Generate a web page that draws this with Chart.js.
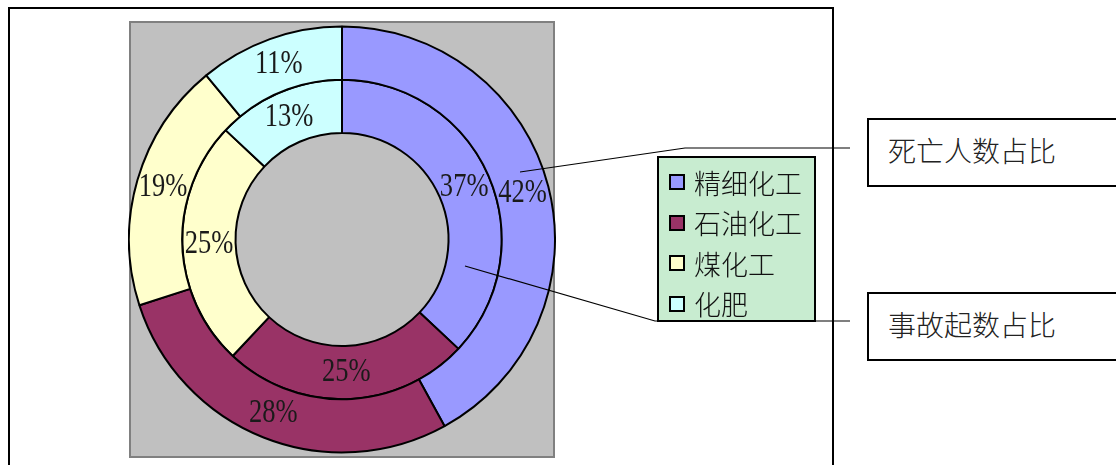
<!DOCTYPE html>
<html>
<head>
<meta charset="utf-8">
<script src="https://cdn.jsdelivr.net/npm/chart.js@4.4.1/dist/chart.umd.min.js"></script>
<style>
  html, body { margin: 0; padding: 0; background: #fff; }
  body { width: 1116px; height: 465px; position: relative; overflow: hidden; }
  #frame { position: absolute; left: 8px; top: 7px; width: 826px; height: 470px; border: 2px solid #000; box-sizing: border-box; }
  #plot { position: absolute; left: 129px; top: 21px; width: 426px; height: 437px; background: #c0c0c0; border: 2px solid #808080; box-sizing: border-box; }
  #chart { position: absolute; left: 128px; top: 22px; }
  #legend { position: absolute; left: 657px; top: 156px; width: 159px; height: 166px; background: #c8ecd0; border: 2px solid #000; box-sizing: border-box; padding-top: 4px; }
  .item { height: 40.5px; display: flex; align-items: center; padding-left: 10px; font-family: "Noto Sans CJK SC", sans-serif; font-weight: 300; font-size: 27px; color: #111; }
  .sw { width: 12px; height: 12px; border: 2px solid #000; margin-right: 9px; }
  .callout { position: absolute; left: 867px; width: 260px; height: 69px; border: 2px solid #000; box-sizing: border-box; font-family: "Noto Sans CJK SC", sans-serif; font-weight: 300; font-size: 28px; color: #222; padding-left: 19px; line-height: 60px; background: #fff; }
  svg { position: absolute; left: 0; top: 0; }
</style>
</head>
<body>
<div id="frame"></div>
<div id="plot"></div>
<canvas id="chart" width="428" height="435"></canvas>
<svg width="1116" height="465">
  <polyline points="520,172 685,148 850,148" fill="none" stroke="#000" stroke-width="1.2"/>
  <polyline points="465,266 655,321 850,321" fill="none" stroke="#000" stroke-width="1.2"/>
</svg>
<div id="legend"></div>
<div class="callout" style="top:118px">死亡人数占比</div>
<div class="callout" style="top:292px">事故起数占比</div>
<script>
// 業種カテゴリ
const categories = ['精细化工', '石油化工', '煤化工', '化肥'];
// 外側リング：死亡人数占比（%）
const deathShare = [42, 28, 19, 11];
// 内側リング：事故起数占比（%）
const accidentShare = [37, 25, 25, 13];
const seriesNames = ['死亡人数占比', '事故起数占比'];
const colors = ['#9999ff', '#993366', '#ffffcc', '#ccffff'];

// 凡例（HTML）
const legendEl = document.getElementById('legend');
categories.forEach((name, i) => {
    const row = document.createElement('div');
    row.className = 'item';
    row.innerHTML = `<span class="sw" style="background:${colors[i]}"></span>${name}`;
    legendEl.appendChild(row);
});

// 各扇形の中央にパーセント表示
const percentLabels = {
    id: 'percentLabels',
    afterDatasetsDraw(chart) {
        const ctx = chart.ctx;
        ctx.save();
        ctx.font = '34px "Liberation Serif", serif';
        ctx.fillStyle = '#1a1a1a';
        ctx.textAlign = 'center';
        ctx.textBaseline = 'middle';
        chart.data.datasets.forEach((ds, di) => {
            chart.getDatasetMeta(di).data.forEach((arc, i) => {
                const p = arc.tooltipPosition();
                ctx.save();
                ctx.translate(p.x, p.y);
                ctx.scale(0.78, 1);
                ctx.fillText(ds.data[i] + '%', 0, 0);
                ctx.restore();
            });
        });
        ctx.restore();
    }
};

new Chart(document.getElementById('chart'), {
    type: 'doughnut',
    data: {
        labels: categories,
        datasets: [
            { label: seriesNames[0], data: deathShare, backgroundColor: colors, borderColor: '#000', borderWidth: 2, borderAlign: 'center' },
            { label: seriesNames[1], data: accidentShare, backgroundColor: colors, borderColor: '#000', borderWidth: 2, borderAlign: 'center' }
        ]
    },
    plugins: [percentLabels],
    options: {
        responsive: false,
        animation: false,
        cutout: '50%',
        layout: { padding: 0 },
        plugins: {
            legend: { display: false },
            tooltip: { enabled: false }
        }
    }
});
</script>
</body>
</html>
